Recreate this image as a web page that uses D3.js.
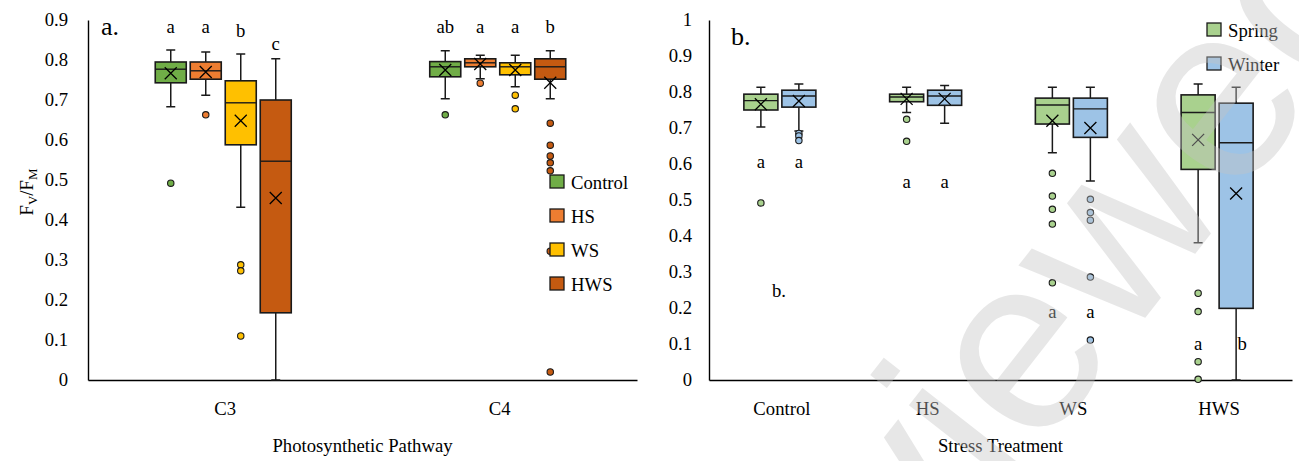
<!DOCTYPE html>
<html>
<head>
<meta charset="utf-8">
<script src="https://cdn.jsdelivr.net/npm/d3@7"></script>
<style>
  body { margin: 0; background: #fff; }
  text { font-family: "Liberation Serif", "Times New Roman", serif; fill: #000; }
</style>
</head>
<body>
<svg id="chart" width="1299" height="461"></svg>
<script>
// Fv/Fm box plots: (a) by photosynthetic pathway, (b) by stress treatment and season.

var pathways = ['C3', 'C4'];
var treatments = ['Control', 'HS', 'WS', 'HWS'];
var seasons = ['Spring', 'Winter'];
var treatmentColors = ['#70AD47', '#ED7D31', '#FFC000', '#C55A11'];
var seasonColors = ['#A9D18E', '#9DC3E6'];

// Panel a: one row per pathway, one column per treatment.
var aMin    = [[0.683, 0.712, 0.432, 0.000], [0.703, 0.753, 0.733, 0.703]];
var aQ1     = [[0.743, 0.752, 0.588, 0.168], [0.758, 0.783, 0.763, 0.752]];
var aMedian = [[0.777, 0.773, 0.693, 0.547], [0.783, 0.793, 0.783, 0.783]];
var aQ3     = [[0.795, 0.795, 0.748, 0.700], [0.796, 0.803, 0.793, 0.803]];
var aMax    = [[0.825, 0.820, 0.815, 0.803], [0.823, 0.812, 0.812, 0.823]];
var aMean   = [[0.767, 0.770, 0.648, 0.455], [0.775, 0.790, 0.775, 0.743]];
var aOutliers = [
  [[0.492], [0.663], [0.288, 0.273, 0.110], []],
  [[0.663], [0.742], [0.712, 0.678], [0.642, 0.587, 0.560, 0.543, 0.523, 0.322, 0.020]]
];
var aLetters = [['a', 'a', 'b', 'c'], ['ab', 'a', 'a', 'b']];
var aTicks = [0, 0.1, 0.2, 0.3, 0.4, 0.5, 0.6, 0.7, 0.8, 0.9];

// Panel b: one row per treatment, one column per season.
var bMin    = [[0.703, 0.692], [0.743, 0.713], [0.631, 0.553], [0.381, 0.000]];
var bQ1     = [[0.750, 0.758], [0.773, 0.763], [0.711, 0.674], [0.585, 0.199]];
var bMedian = [[0.776, 0.789], [0.786, 0.789], [0.764, 0.753], [0.743, 0.659]];
var bQ3     = [[0.794, 0.805], [0.794, 0.805], [0.783, 0.783], [0.792, 0.769]];
var bMax    = [[0.813, 0.822], [0.813, 0.818], [0.813, 0.813], [0.822, 0.813]];
var bMean   = [[0.766, 0.775], [0.781, 0.781], [0.720, 0.700], [0.667, 0.518]];
var bOutliers = [
  [[0.492], [0.685, 0.678, 0.665]],
  [[0.724, 0.663], []],
  [[0.574, 0.511, 0.474, 0.433, 0.270], [0.502, 0.465, 0.444, 0.286, 0.111]],
  [[0.241, 0.190, 0.051, 0.002], []]
];
var bLetters = [['a', 'a'], ['a', 'a'], ['a', 'a'], ['a', 'b']];
var bTicks = [0, 0.1, 0.2, 0.3, 0.4, 0.5, 0.6, 0.7, 0.8, 0.9, 1];

// Where the letters sit (in Fv/Fm units) - layout only.
var aLetterLevel = [[0.8675, 0.8675, 0.8575, 0.825], [0.8675, 0.8675, 0.8675, 0.8675]];
var bLetterLevel = [0.589, 0.533, 0.172, 0.083];

var svg = d3.select('#chart');
var fontSize = 18.7;

/**
 * Turn the nested stat arrays into a flat list of boxes.
 */
function buildBoxes(cats, series, mins, q1s, meds, q3s, maxs, means, outs) {
  var boxes = [];
  cats.forEach(function(c, i) {
    series.forEach(function(s, j) {
      boxes.push({
        cat: c, series: s, si: j,
        min: mins[i][j], q1: q1s[i][j], med: meds[i][j], q3: q3s[i][j],
        max: maxs[i][j], mean: means[i][j], outliers: outs[i][j]
      });
    });
  });
  return boxes;
}

/**
 * Draw one box-plot panel.
 */
function drawPanel(opts) {
  var x = d3.scaleBand().domain(opts.cats).range([opts.left, opts.right]);
  var xs = d3.scaleBand().domain(opts.series)
    .range([-opts.groupWidth / 2, opts.groupWidth / 2])
    .paddingInner(opts.pad).paddingOuter(opts.pad / 2);
  var y = d3.scaleLinear().domain([0, opts.yMax]).range([380, 20]);
  var g = svg.append('g');
  var bw = xs.bandwidth();
  var cx = function(d) { return x(d.cat) + x.bandwidth() / 2 + opts.shift + xs(d.series) + bw / 2; };

  // Axes.
  var yAxis = g.append('g')
    .attr('transform', 'translate(' + opts.left + ',0)')
    .call(d3.axisLeft(y).tickValues(opts.ticks).tickSize(0).tickPadding(opts.tickPad)
      .tickFormat(d3.format('~g')));
  var xAxis = g.append('g')
    .attr('transform', 'translate(0,380)')
    .call(d3.axisBottom(x).tickSize(0).tickPadding(22));
  [yAxis, xAxis].forEach(function(a) {
    a.attr('font-family', null);
    a.select('.domain').attr('stroke', '#000').attr('stroke-width', 1.4);
    a.selectAll('text').attr('font-size', fontSize);
  });

  var box = g.selectAll('g.box').data(opts.boxes).enter().append('g').attr('class', 'box');
  var cap = 4.5;

  // Whiskers and caps.
  box.append('path')
    .attr('d', function(d) {
      var c = cx(d);
      return 'M' + c + ',' + y(d.q3) + 'V' + y(d.max) + 'M' + (c - cap) + ',' + y(d.max) + 'H' + (c + cap) +
        'M' + c + ',' + y(d.q1) + 'V' + y(d.min) + 'M' + (c - cap) + ',' + y(d.min) + 'H' + (c + cap);
    })
    .attr('stroke', '#1a1a1a').attr('stroke-width', 1.5).attr('fill', 'none');

  box.append('rect')
    .attr('x', function(d) { return cx(d) - bw / 2; })
    .attr('y', function(d) { return y(d.q3); })
    .attr('width', bw)
    .attr('height', function(d) { return y(d.q1) - y(d.q3); })
    .attr('fill', function(d) { return opts.colors[d.si]; })
    .attr('stroke', '#1a1a1a').attr('stroke-width', 1.6);

  box.append('line')
    .attr('x1', function(d) { return cx(d) - bw / 2; })
    .attr('x2', function(d) { return cx(d) + bw / 2; })
    .attr('y1', function(d) { return y(d.med); })
    .attr('y2', function(d) { return y(d.med); })
    .attr('stroke', '#1a1a1a').attr('stroke-width', 1.4);

  // Mean marker.
  var m = 6;
  box.append('path')
    .attr('d', function(d) {
      var c = cx(d), v = y(d.mean);
      return 'M' + (c - m) + ',' + (v - m) + 'L' + (c + m) + ',' + (v + m) +
        'M' + (c - m) + ',' + (v + m) + 'L' + (c + m) + ',' + (v - m);
    })
    .attr('stroke', '#000').attr('stroke-width', 1.3);

  // Outliers.
  box.selectAll('circle')
    .data(function(d) { return d.outliers.map(function(v) { return { v: v, b: d }; }); })
    .enter().append('circle')
      .attr('cx', function(o) { return cx(o.b); })
      .attr('cy', function(o) { return y(o.v); })
      .attr('r', 3.2)
      .attr('fill', function(o) { return opts.colors[o.b.si]; })
      .attr('stroke', '#1a1a1a').attr('stroke-width', 1.1);

  // Significance letters.
  box.append('text')
    .attr('x', function(d) { return cx(d) + opts.letterDx(d); })
    .attr('y', function(d) { return y(opts.letterLevel(d)); })
    .attr('text-anchor', 'middle')
    .attr('font-size', fontSize)
    .text(function(d) { return opts.letter(d); });

  // Axis title.
  g.append('text')
    .attr('x', (opts.left + opts.right) / 2).attr('y', 452)
    .attr('text-anchor', 'middle').attr('font-size', fontSize)
    .text(opts.title);

  // Legend.
  var lg = g.selectAll('g.legend').data(opts.series).enter().append('g')
    .attr('transform', function(d, i) { return 'translate(' + opts.legendX + ',' + (opts.legendY + i * opts.legendStep) + ')'; });
  lg.append('rect')
    .attr('x', 0).attr('y', -7).attr('width', 14).attr('height', 13)
    .attr('fill', function(d, i) { return opts.colors[i]; })
    .attr('stroke', '#1a1a1a').attr('stroke-width', 1.3);
  lg.append('text')
    .attr('x', 21).attr('y', 6.5)
    .attr('font-size', fontSize)
    .text(function(d) { return d; });

  return { x: x, y: y, g: g };
}

var pa = drawPanel({
  cats: pathways, series: treatments, colors: treatmentColors,
  boxes: buildBoxes(pathways, treatments, aMin, aQ1, aMedian, aQ3, aMax, aMean, aOutliers),
  left: 88, right: 637, yMax: 0.9, ticks: aTicks, tickPad: 20,
  groupWidth: 140, pad: 0.114, shift: -2,
  letter: function(d) { return aLetters[pathways.indexOf(d.cat)][d.si]; },
  letterLevel: function(d) { return aLetterLevel[pathways.indexOf(d.cat)][d.si]; },
  letterDx: function() { return 0; },
  title: 'Photosynthetic Pathway',
  legendX: 550, legendY: 182, legendStep: 34
});

var pb = drawPanel({
  cats: treatments, series: seasons, colors: seasonColors,
  boxes: buildBoxes(treatments, seasons, bMin, bQ1, bMedian, bQ3, bMax, bMean, bOutliers),
  left: 709, right: 1292, yMax: 1, ticks: bTicks, tickPad: 17,
  groupWidth: 76, pad: 0.105, shift: -2,
  letter: function(d) { return bLetters[treatments.indexOf(d.cat)][d.si]; },
  letterLevel: function(d) { return bLetterLevel[treatments.indexOf(d.cat)]; },
  letterDx: function(d) { return d.cat === 'HWS' && d.si === 1 ? 6 : 0; },
  title: 'Stress Treatment',
  legendX: 1207, legendY: 30, legendStep: 34
});

// Panel tags.
svg.append('text').attr('x', 101).attr('y', 35).attr('font-size', 26).text('a.');
svg.append('text').attr('x', 731).attr('y', 45).attr('font-size', 26).text('b.');
svg.append('text').attr('x', 772).attr('y', pb.y(0.23)).attr('font-size', fontSize).text('b.');

// Y axis title with subscripts.
var yl = svg.append('text')
  .attr('transform', 'translate(33,192) rotate(-90)')
  .attr('text-anchor', 'middle')
  .attr('font-size', fontSize);
yl.append('tspan').text('F');
yl.append('tspan').attr('dy', 4).attr('font-size', 13).text('V');
yl.append('tspan').attr('dy', -4).text('/F');
yl.append('tspan').attr('dy', 4).attr('font-size', 13).text('M');

// Faint preprint watermark across the right panel.
svg.append('text')
  .attr('transform', 'translate(1405,-15) rotate(-52)')
  .attr('text-anchor', 'end')
  .attr('font-size', 250)
  .style('font-family', '"Liberation Sans", Arial, sans-serif')
  .style('fill', '#c4c4c4')
  .style('opacity', 0.4)
  .text('not peer reviewed');
</script>
</body>
</html>
